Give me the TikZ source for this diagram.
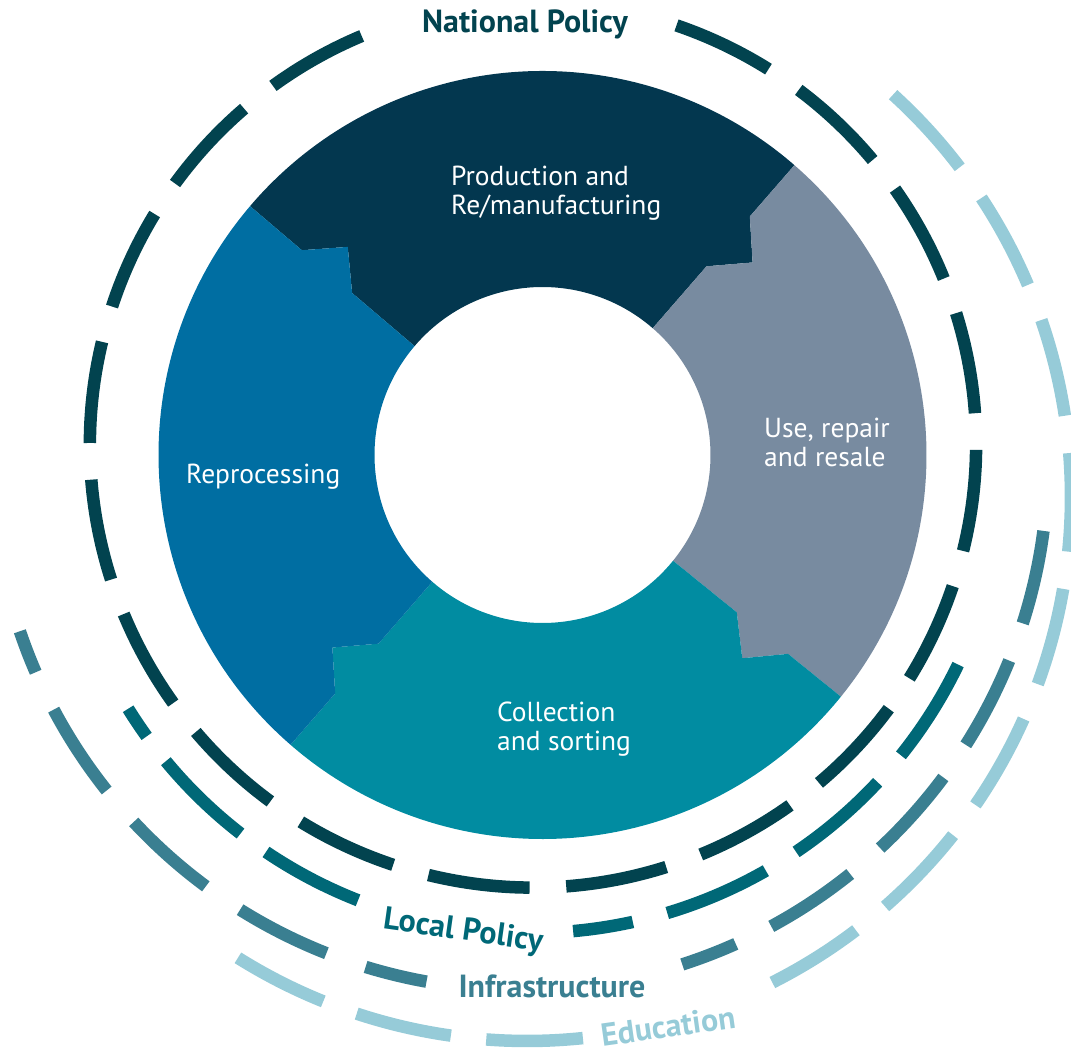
\documentclass[tikz,border=0pt]{standalone}
\usepackage{fontspec}
\setmainfont{PT Sans}
\usetikzlibrary{positioning}
\definecolor{prodcol}{HTML}{03374F}
\definecolor{usecol}{HTML}{788BA0}
\definecolor{collcol}{HTML}{018CA1}
\definecolor{reprcol}{HTML}{006EA2}
\definecolor{natlcol}{HTML}{02434F}
\definecolor{loclcol}{HTML}{006877}
\definecolor{infracol}{HTML}{3A7F91}
\definecolor{educol}{HTML}{96CBD8}

\begin{document}
\begin{tikzpicture}[x=1pt,y=1pt,
  ringdash/.style={line width=12.5pt},
  seglabel/.style={text=white,font=\fontsize{27.5}{29}\selectfont,align=left,anchor=west,inner sep=0pt},
  ringlabel/.style={font=\fontsize{32}{34}\selectfont\bfseries,inner sep=0pt}]
\useasboundingbox (-542.5,-601) rectangle (528.5,455);
\clip (-542.5,-601) rectangle (528.5,455);

% the four gear segments
\fill[prodcol] (49:384) arc[start angle=49, end angle=139.6, radius=384]
  -- (139.6:316) -- (133.1:285) -- (139.6:250) -- (139.6:168)
  arc[start angle=139.6, end angle=49, radius=168]
  -- (49:250) -- (42.5:285) -- (49:316) -- cycle;
\fill[usecol] (-39:384) arc[start angle=-39, end angle=49, radius=384]
  -- (49:316) -- (42.5:285) -- (49:250) -- (49:168)
  arc[start angle=49, end angle=-39, radius=168]
  -- (-39:250) -- (-45.5:285) -- (-39:316) -- cycle;
\fill[collcol] (-131:384) arc[start angle=-131, end angle=-39, radius=384]
  -- (-39:316) -- (-45.5:285) -- (-39:250) -- (-39:168)
  arc[start angle=-39, end angle=-131, radius=168]
  -- (-131:250) -- (-137.5:285) -- (-131:316) -- cycle;
\fill[reprcol] (139.6:384) arc[start angle=139.6, end angle=229, radius=384]
  -- (229:316) -- (222.5:285) -- (229:250) -- (229:168)
  arc[start angle=229, end angle=139.6, radius=168]
  -- (139.6:250) -- (133.1:285) -- (139.6:316) -- cycle;

\node[seglabel] (prod) at (-91.5,262) {Production and\\Re/manufacturing};
\node[seglabel] (use) at (221.5,13) {Use, repair\\and resale};
\node[seglabel] (coll) at (-45.5,-274.5) {Collection\\and sorting};
\node[seglabel] (repr) at (-356.5,-22) {Reprocessing};

% national policy ring
\begin{scope}[shift={(-9.5,10.5)}]
\draw[natlcol,ringdash,dash pattern=on 102.1pt off 36.7pt]
  (71.1:443) arc[start angle=71.1, end angle=-247.25, radius=443];
\end{scope}

% local policy ring
\begin{scope}[shift={(-11.5,-4)}]
\draw[loclcol,ringdash,dash pattern=on 107.5pt off 35.6pt]
  (334.3:474) arc[start angle=334.3, end angle=275.1, radius=474];
\draw[loclcol,ringdash,dash pattern=on 104.2pt off 31.4pt]
  (248.6:474) arc[start angle=248.6, end angle=211.8, radius=474];
\end{scope}

% infrastructure ring
\begin{scope}[shift={(-22.5,-7)}]
\draw[infracol,ringdash,dash pattern=on 94.9pt off 39.6pt]
  (352.5:528) arc[start angle=352.5, end angle=287.9, radius=528];
\draw[infracol,ringdash,dash pattern=on 96.8pt off 41.5pt,dash phase=34.1pt]
  (259.8:528) arc[start angle=259.8, end angle=198.7, radius=528];
\end{scope}

% education ring
\begin{scope}[shift={(-15.5,-42)}]
\draw[educol,ringdash,dash pattern=on 98.7pt off 37.6pt]
  (47.7:544) arc[start angle=47.7, end angle=-63.2, radius=544];
\draw[educol,ringdash,dash pattern=on 96.8pt off 35.6pt]
  (-84.1:544) arc[start angle=-84.1, end angle=-122.1, radius=544];
\end{scope}

\node[ringlabel,text=natlcol] (natl) at (-17.5,431) {National Policy};
\node[ringlabel,text=loclcol,rotate=-8] (locl) at (-79.5,-477) {Local Policy};
\node[ringlabel,text=infracol] (infra) at (9.5,-531) {Infrastructure};
\node[ringlabel,text=educol,rotate=8] (edu) at (125.5,-571) {Education};
\end{tikzpicture}
\end{document}
